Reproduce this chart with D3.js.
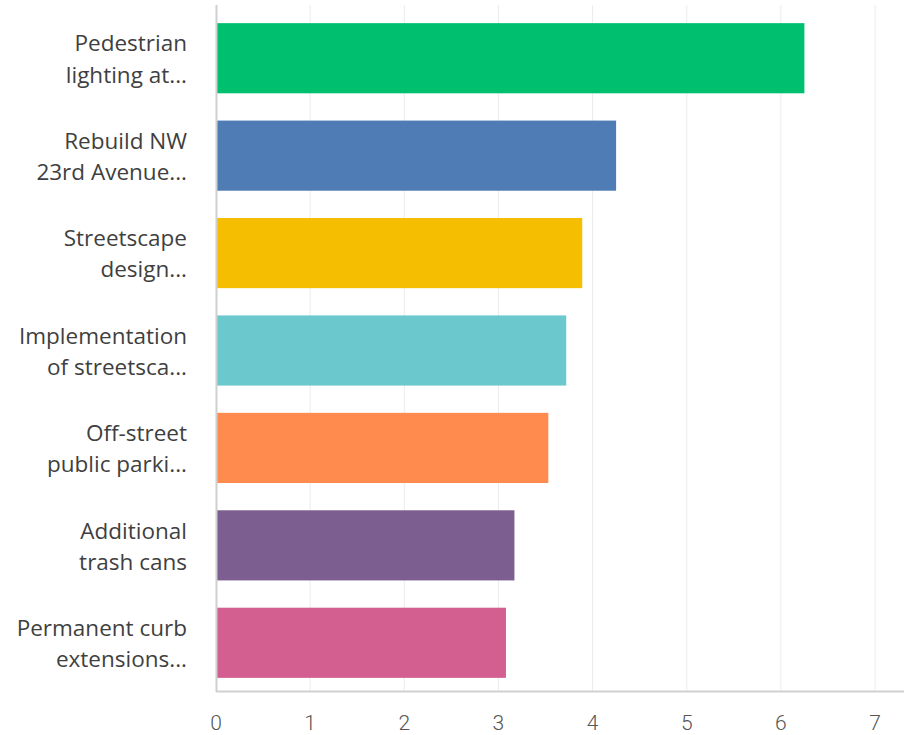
<!DOCTYPE html>
<html lang="en">
<head>
  <meta charset="UTF-8">
  <title>Project priorities</title>
  <script src="https://d3js.org/d3.v7.min.js"></script>
  <style>
    body {
      margin: 0;
      background: #fff;
    }
    .cat-label {
      font-family: "Open Sans", sans-serif;
      font-size: 22.5px;
      fill: #3f3f3f;
    }
    .tick-label {
      font-family: Roboto, sans-serif;
      font-weight: 300;
      font-size: 21px;
      fill: #555;
    }
  </style>
</head>
<body>
  <svg id="chart" width="904" height="735"></svg>

  <script>
    const svg = d3.select("#chart");

    // Chart data
    const labels = [
      ["Pedestrian", "lighting at..."],
      ["Rebuild NW", "23rd Avenue..."],
      ["Streetscape", "design..."],
      ["Implementation", "of streetsca..."],
      ["Off-street", "public parki..."],
      ["Additional", "trash cans"],
      ["Permanent curb", "extensions..."]
    ];
    const scores = [6.25, 4.25, 3.89, 3.72, 3.53, 3.17, 3.08];
    const colors = ["#00bf6f", "#507cb6", "#f6be00", "#6bc8cd", "#ff8b4f", "#7d5e90", "#d25f90"];
    const ticks = [0, 1, 2, 3, 4, 5, 6, 7];

    const x = d3.scaleLinear().domain([0, 7]).range([216, 875]);
    const y = d3.scaleBand()
      .domain(d3.range(scores.length))
      .range([10, 691])
      .paddingInner(0.28)
      .paddingOuter(0.135);

    // grid lines
    svg.append("g")
      .selectAll("line")
      .data(ticks.slice(1))
      .enter().append("line")
      .attr("x1", d => x(d)).attr("x2", d => x(d))
      .attr("y1", 5).attr("y2", 691)
      .attr("stroke", "#ececec")
      .attr("stroke-width", 1);

    // bars
    svg.append("g")
      .selectAll("rect")
      .data(scores)
      .enter().append("rect")
      .attr("x", x(0))
      .attr("y", (d, i) => y(i))
      .attr("width", d => x(d) - x(0))
      .attr("height", y.bandwidth())
      .attr("fill", (d, i) => colors[i]);

    // axes lines
    svg.append("line")
      .attr("x1", 216.5).attr("x2", 216.5)
      .attr("y1", 5).attr("y2", 692)
      .attr("stroke", "#d0d0d0").attr("stroke-width", 2);
    svg.append("line")
      .attr("x1", 216).attr("x2", 904)
      .attr("y1", 691.5).attr("y2", 691.5)
      .attr("stroke", "#d0d0d0").attr("stroke-width", 2);

    // tick labels
    svg.append("g")
      .selectAll("text")
      .data(ticks)
      .enter().append("text")
      .attr("class", "tick-label")
      .attr("x", d => x(d))
      .attr("y", 730)
      .attr("text-anchor", "middle")
      .text(d => d);

    // category labels
    const cat = svg.append("g")
      .selectAll("text")
      .data(labels)
      .enter().append("text")
      .attr("class", "cat-label")
      .attr("text-anchor", "end")
      .attr("x", 187)
      .attr("y", (d, i) => y(i) + y.bandwidth() / 2);

    cat.selectAll("tspan")
      .data(d => d)
      .enter().append("tspan")
      .attr("x", 187)
      .attr("dy", (d, j) => j === 0 ? "-0.3em" : "1.38em")
      .text(d => d);
  </script>
</body>
</html>
